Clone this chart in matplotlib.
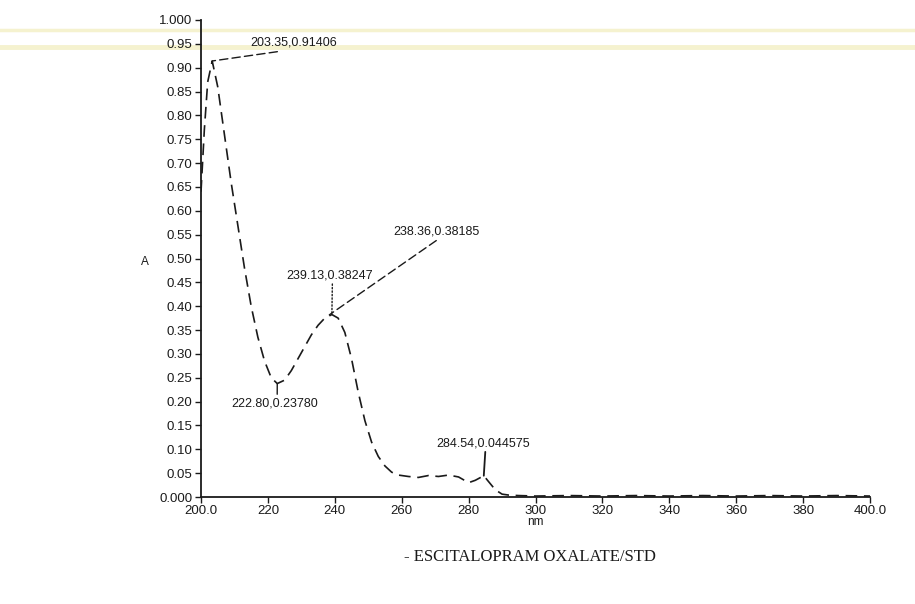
import matplotlib
matplotlib.use("Agg")
import matplotlib.pyplot as plt
from matplotlib.lines import Line2D

# UV absorption spectrum
wavelength = [200, 201, 202, 203.35, 205, 207, 209, 211, 213, 215, 217, 219, 221,
              222.8, 225, 227, 229, 231, 233, 235, 237, 239.13, 241, 243, 245, 247,
              249, 251, 253, 255, 257, 259, 262, 265, 268, 271, 274, 277, 280, 282,
              284.54, 286, 288, 290, 292, 295, 300, 310, 320, 330, 340, 350, 360,
              370, 380, 390, 400]
absorbance = [0.64, 0.77, 0.87, 0.91406, 0.86, 0.76, 0.66, 0.57, 0.48, 0.40, 0.335,
              0.285, 0.25, 0.2378, 0.245, 0.265, 0.29, 0.315, 0.34, 0.36, 0.375,
              0.38247, 0.375, 0.345, 0.29, 0.22, 0.16, 0.115, 0.085, 0.065, 0.052,
              0.046, 0.043, 0.041, 0.045, 0.043, 0.046, 0.042, 0.03, 0.035, 0.044575,
              0.032, 0.015, 0.006, 0.004, 0.003, 0.002, 0.003, 0.002, 0.003, 0.002,
              0.003, 0.002, 0.003, 0.002, 0.003, 0.002]

# labelled points: (x, y, label)
peak_main = (203.35, 0.91406, "203.35,0.91406")
peak_mid_a = (239.13, 0.38247, "239.13,0.38247")
peak_mid_b = (238.36, 0.38185, "238.36,0.38185")
valley = (222.80, 0.23780, "222.80,0.23780")
peak_small = (284.54, 0.044575, "284.54,0.044575")

xticks = [200, 220, 240, 260, 280, 300, 320, 340, 360, 380, 400]
xticklabels = ["200.0", "220", "240", "260", "280", "300", "320", "340", "360", "380", "400.0"]
yticks = [i * 0.05 for i in range(21)]
yticklabels = ["0.000"] + [f"{v:.2f}" for v in yticks[1:-1]] + ["1.000"]

title = "- ESCITALOPRAM OXALATE/STD"

plt.rcParams["font.family"] = ["Liberation Sans", "DejaVu Sans"]
ink = "#1a1a1a"

fig = plt.figure(figsize=(9.15, 6.04), dpi=100)
fig.patch.set_facecolor("white")

# faint yellow bands across the top of the sheet
for yb, lw in [(1 - 30 / 604, 2.5), (1 - 47 / 604, 3.5)]:
    fig.add_artist(Line2D([0, 1], [yb, yb], transform=fig.transFigure,
                          color="#f5f2cf", lw=lw, zorder=0))

ax = fig.add_axes([201 / 915, 1 - 497 / 604, (870 - 201) / 915, (497 - 20) / 604])
ax.set_facecolor("none")
ax.plot(wavelength, absorbance, color=ink, lw=1.2, linestyle=(0, (7, 4)))

ax.set_xlim(200, 400)
ax.set_ylim(0, 1.0)
ax.set_xticks(xticks)
ax.set_xticklabels(xticklabels)
ax.set_yticks(yticks)
ax.set_yticklabels(yticklabels)
ax.tick_params(axis="both", direction="out", length=4, width=1, colors=ink,
               labelsize=9.5, pad=2)
for s in ("top", "right"):
    ax.spines[s].set_visible(False)
for s in ("left", "bottom"):
    ax.spines[s].set_color(ink)
    ax.spines[s].set_linewidth(1.3)

ax.set_xlabel("nm", fontsize=8.5, color=ink, labelpad=-1)
ax.set_ylabel("A", fontsize=8.5, color=ink, rotation=0)
ax.yaxis.set_label_coords(-0.084, 0.48)


def annot(pt, text_xy, relpos, **line_kw):
    x, y, lab = pt
    ax.annotate(lab, xy=(x, y), xytext=text_xy, fontsize=9, color=ink,
                ha="center", va="center",
                arrowprops=dict(arrowstyle="-", color=ink, shrinkA=0, shrinkB=0,
                                relpos=relpos, **line_kw))


annot(peak_main, (227.6, 0.952), (0.54, 0.0), linestyle=(0, (6, 3)), lw=1.0)
annot(peak_mid_b, (270.5, 0.556), (0.54, 0.0), linestyle=(0, (6, 3)), lw=1.0)
annot(peak_mid_a, (238.5, 0.465), (0.53, 0.0), linestyle=(0, (1, 1.5)), lw=1.0)
annot(valley, (222.0, 0.197), (0.53, 1.0), linestyle="-", lw=1.0)
annot(peak_small, (284.2, 0.113), (0.53, 0.0), linestyle="-", lw=1.3)

fig.text(530 / 915, 1 - 557 / 604, title, fontsize=12, color=ink, ha="center",
         va="center", family=["Liberation Serif", "DejaVu Serif"])

fig.savefig("out.png", dpi=100, facecolor="white")
